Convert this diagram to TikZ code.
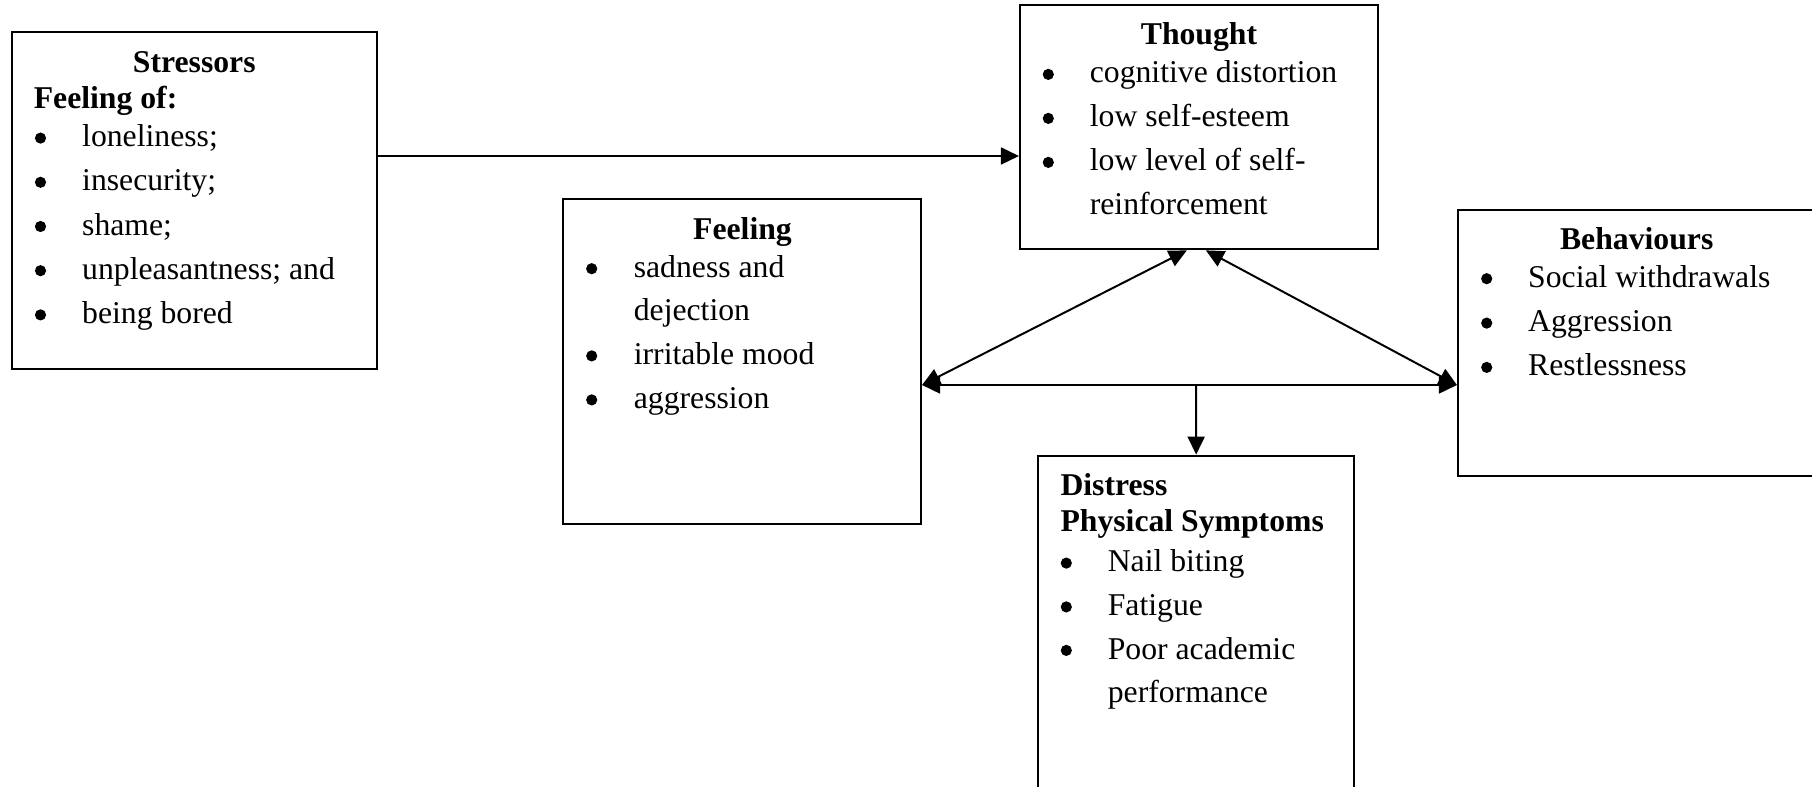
\documentclass[tikz,border=0pt]{standalone}
\usepackage{fontspec}
\setmainfont{Liberation Serif}
\usetikzlibrary{arrows.meta,fit,calc}
\begin{document}
\begin{tikzpicture}[x=0.3785pt,y=-0.3785pt,
  box/.style={draw,line width=0.8pt,inner sep=0pt},
  txt/.style={anchor=base west,inner sep=0pt,font=\fontsize{12pt}{14pt}\selectfont},
  ttl/.style={anchor=base,inner sep=0pt,font=\fontsize{12pt}{14pt}\selectfont\bfseries},
  hd/.style={anchor=base west,inner sep=0pt,font=\fontsize{12pt}{14pt}\selectfont\bfseries},
  conn/.style={line width=0.75pt},
  Tri/.tip={Triangle[length=6.8pt,width=6.4pt]}]
\newcommand\bline[5]{\fill (#2,#4-8.6) circle[radius=5.6]; \node[txt] (#1) at (#3,#4) {#5};}
\useasboundingbox (0,0) rectangle (1812,787);

% boxes
\coordinate (s1) at (11.7,32.3); \coordinate (s2) at (376.7,369.3);
\coordinate (t1) at (1020,4.7); \coordinate (t2) at (1377.7,249.3);
\coordinate (f1) at (563.3,199); \coordinate (f2) at (921,524.3);
\coordinate (b1) at (1458,210); \coordinate (b2) at (1815,476);
\coordinate (d1) at (1038.3,455.7); \coordinate (d2) at (1354,800);
\node[box, fit=(s1)(s2)] (stress) {};
\node[box, fit=(t1)(t2)] (thought) {};
\node[box, fit=(f1)(f2)] (feeling) {};
\node[box, fit=(b1)(b2)] (behav) {};
\node[box, fit=(d1)(d2)] (distress) {};

% Stressors text
\node[ttl] (st0) at (194.3,72.3) {Stressors};
\node[hd] (st1) at (33.3,108.3) {Feeling of:};
\bline{st2}{40.5}{81.7}{146.7}{loneliness;}
\bline{st3}{40.5}{81.7}{190.9}{insecurity;}
\bline{st4}{40.5}{81.7}{235.1}{shame;}
\bline{st5}{40.5}{81.7}{279.3}{unpleasantness; and}
\bline{st6}{40.5}{81.7}{323.5}{being bored}

% Thought text
\node[ttl] (th0) at (1199,45) {Thought};
\bline{th1}{1048.3}{1089.3}{83}{cognitive distortion}
\bline{th2}{1048.3}{1089.3}{127}{low self-esteem}
\bline{th3}{1048.3}{1089.3}{171}{low level of self-}
\node[txt] (th4) at (1089.3,215) {reinforcement};

% Feeling text
\node[ttl] (fe0) at (742.5,239.3) {Feeling};
\bline{fe1}{591.7}{633.3}{277.3}{sadness and}
\node[txt] (fe2) at (633.3,321) {dejection};
\bline{fe3}{591.7}{633.3}{364.5}{irritable mood}
\bline{fe4}{591.7}{633.3}{408.5}{aggression}

% Behaviours text
\node[ttl] (be0) at (1636.7,249.3) {Behaviours};
\bline{be1}{1486.7}{1527.7}{287.3}{Social withdrawals}
\bline{be2}{1486.7}{1527.7}{331.7}{Aggression}
\bline{be3}{1486.7}{1527.7}{376}{Restlessness}

% Distress text
\node[hd] (di0) at (1060,495) {Distress};
\node[hd] (di1) at (1060,531.7) {Physical Symptoms};
\bline{di2}{1066.3}{1107.3}{571.7}{Nail biting}
\bline{di3}{1066.3}{1107.3}{615.5}{Fatigue}
\bline{di4}{1066.3}{1107.3}{659}{Poor academic}
\node[txt] (di5) at (1107.3,702) {performance};

% connectors
\coordinate (junc) at (1196.2,385);
\coordinate (sy) at (0,156);
\draw[conn,-Tri] (stress.east |- sy) -- (thought.west |- sy);
\draw[conn,Tri-Tri] ($(thought.south)+(-12,0)$) -- (feeling.east |- junc);
\draw[conn,Tri-Tri] ($(thought.south)+(7,0)$) -- (behav.west |- junc);
\draw[conn,Tri-Tri] (feeling.east |- junc) -- (behav.west |- junc);
\draw[conn,-Tri] (junc) -- (distress.north);
\end{tikzpicture}
\end{document}
